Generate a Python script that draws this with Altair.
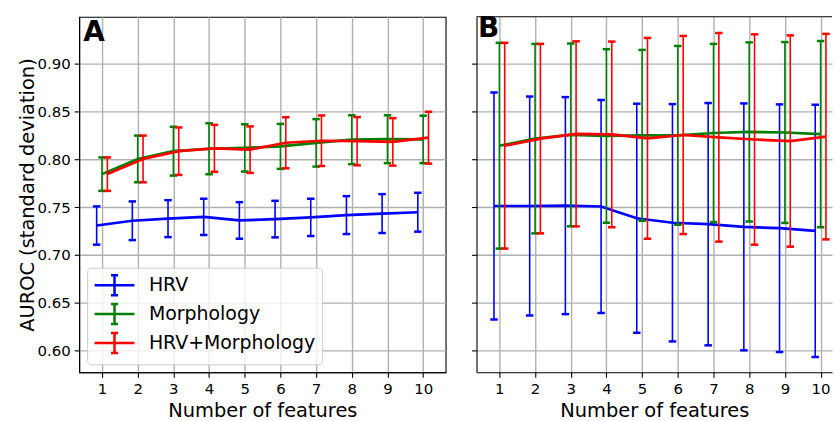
import altair as alt
import pandas as pd

n_features = list(range(1, 11))
series = ["HRV", "Morphology", "HRV+Morphology"]
colors = ["#0000ff", "#008000", "#ff0000"]
offsets = [-0.15, 0.0, 0.15]
y_ticks = [0.60, 0.65, 0.70, 0.75, 0.80, 0.85, 0.90]

# Panel A: mean AUROC and standard deviation
a_hrv_mean = [0.7308, 0.7358, 0.7380, 0.7399, 0.7361, 0.7375, 0.7393, 0.7417, 0.7433, 0.7447]
a_hrv_sd = [0.0200, 0.0202, 0.0193, 0.0189, 0.0191, 0.0191, 0.0195, 0.0198, 0.0203, 0.0203]
a_mor_mean = [0.7845, 0.8004, 0.8085, 0.8110, 0.8119, 0.8135, 0.8172, 0.8205, 0.8210, 0.8208]
a_mor_sd = [0.0175, 0.0244, 0.0255, 0.0266, 0.0247, 0.0235, 0.0248, 0.0255, 0.0250, 0.0248]
a_all_mean = [0.7845, 0.8004, 0.8085, 0.8115, 0.8101, 0.8173, 0.8194, 0.8189, 0.8182, 0.8226]
a_all_sd = [0.0175, 0.0244, 0.0248, 0.0245, 0.0243, 0.0267, 0.0264, 0.0252, 0.0248, 0.0271]

# Panel B
b_hrv_mean = [0.7512, 0.7512, 0.7516, 0.7507, 0.7384, 0.7337, 0.7322, 0.7294, 0.7280, 0.7252]
b_hrv_sd = [0.1186, 0.1144, 0.1134, 0.1112, 0.1197, 0.1240, 0.1266, 0.1290, 0.1294, 0.1318]
b_mor_mean = [0.8142, 0.8216, 0.8255, 0.8244, 0.8250, 0.8250, 0.8275, 0.8286, 0.8280, 0.8263]
b_mor_sd = [0.1075, 0.0990, 0.0955, 0.0907, 0.0893, 0.0934, 0.0931, 0.0936, 0.0945, 0.0973]
b_all_mean = [0.8142, 0.8216, 0.8266, 0.8260, 0.8219, 0.8254, 0.8230, 0.8207, 0.8191, 0.8237]
b_all_sd = [0.1075, 0.0990, 0.0967, 0.0970, 0.1049, 0.1035, 0.1090, 0.1099, 0.1104, 0.1074]


def frame(means, sds):
    rows = []
    for s, off, m, sd in zip(series, offsets, means, sds):
        for n, mv, sv in zip(n_features, m, sd):
            rows.append(dict(series=s, n=n, x=n + off, mean=mv, lo=mv - sv, hi=mv + sv))
    return pd.DataFrame(rows)


FONT = "DejaVu Sans"
GRID = "#b0b0b0"
ys = alt.Scale(domain=[0.5774, 0.9489], nice=False, zero=False)

# legend glyph: horizontal line with a capped error bar in its middle
legend_path = "M-1,0L3,0M1,-1L1,1M0.65,-1L1.35,-1M0.65,1L1.35,1"


def panel(df, xdomain, letter, lx, ly, show_labels):
    xs = alt.Scale(domain=xdomain, nice=False, zero=False)
    xaxis = alt.Axis(values=n_features, format="d", grid=True, gridColor=GRID, gridWidth=1.4,
                     domainColor="black", domainWidth=1.1, tickColor="black", tickSize=5, tickWidth=1.1,
                     labelFontSize=15, labelColor="black", labelPadding=4.5, labelFont=FONT,
                     title="Number of features", titleFontSize=19.5, titleFontWeight="normal",
                     titleColor="black", titleFont=FONT, titlePadding=4.5)
    if show_labels:
        yaxis = alt.Axis(values=y_ticks, format=".2f", grid=True, gridColor=GRID, gridWidth=1.4,
                         domainColor="black", domainWidth=1.1, tickColor="black", tickSize=5, tickWidth=1.1,
                         labelFontSize=15, labelColor="black", labelPadding=4, labelFont=FONT,
                         title="AUROC (standard deviation)", titleFontSize=19.5, titleFontWeight="normal",
                         titleColor="black", titleFont=FONT, titlePadding=-1)
        legend = alt.Legend(title=None, orient="bottom-left", offset=8, labelFontSize=19, labelFont=FONT,
                            labelColor="black", labelLimit=400, symbolType=legend_path, symbolSize=400,
                            symbolStrokeWidth=2.5, symbolFillColor="transparent", labelOffset=33,
                            padding=6, rowPadding=-2, strokeColor="#cccccc",
                            fillColor="rgba(255,255,255,0.8)", cornerRadius=4)
        color = alt.Color("series:N", scale=alt.Scale(domain=series, range=colors), legend=legend)
    else:
        yaxis = alt.Axis(values=y_ticks, labels=False, title=None, grid=True, gridColor=GRID, gridWidth=1.4,
                         domainColor="black", domainWidth=1.1, tickColor="black", tickSize=5, tickWidth=1.1)
        color = alt.Color("series:N", scale=alt.Scale(domain=series, range=colors), legend=None)

    layers = []
    for s in series:
        d = df[df.series == s]
        base = alt.Chart(d)
        layers.append(base.mark_rule(strokeWidth=1.6).encode(
            x=alt.X("x:Q", scale=xs, axis=xaxis),
            y=alt.Y("lo:Q", scale=ys, axis=yaxis),
            y2="hi:Q", color=color))
        layers.append(base.transform_fold(["lo", "hi"], as_=["k", "v"]).mark_tick(
            orient="horizontal", size=7.5, thickness=2.5, opacity=1).encode(
            x=alt.X("x:Q", scale=xs, axis=xaxis),
            y=alt.Y("v:Q", scale=ys, axis=yaxis), color=color))
        layers.append(base.mark_line(strokeWidth=2.7).encode(
            x=alt.X("x:Q", scale=xs, axis=xaxis),
            y=alt.Y("mean:Q", scale=ys, axis=yaxis), color=color))
    layers.append(alt.Chart(pd.DataFrame({"t": [letter]})).mark_text(
        fontSize=28, fontWeight="bold", font=FONT, align="left", baseline="alphabetic", color="black").encode(
        x=alt.value(lx), y=alt.value(ly), text="t:N"))
    return layers


dfa = frame([a_hrv_mean, a_mor_mean, a_all_mean], [a_hrv_sd, a_mor_sd, a_all_sd])
dfb = frame([b_hrv_mean, b_mor_mean, b_all_mean], [b_hrv_sd, b_mor_sd, b_all_sd])

chart_a = alt.layer(*panel(dfa, [0.36, 10.63], "A", 4.0, 24.5, True)).properties(
    width=368, height=357, view=alt.ViewBackground(stroke="black", strokeWidth=1.1))

top_border = alt.Chart(pd.DataFrame({"a": [0]})).mark_rule(color="black", strokeWidth=1.1).encode(
    x=alt.value(0), x2=alt.value(357), y=alt.value(0))
chart_b = alt.layer(*panel(dfb, [0.36, 10.32], "B", 1.5, 20.5, False), top_border).properties(
    width=357, height=357, view=alt.ViewBackground(stroke="transparent"))

chart = alt.hconcat(chart_a, chart_b, spacing=31, bounds="flush").resolve_scale(
    color="independent").resolve_legend(color="independent").properties(
    padding={"left": 17.5, "top": 14, "right": 0, "bottom": 0}).configure(font=FONT)

chart.save("out.html", embed_options={"renderer": "svg", "actions": False})
